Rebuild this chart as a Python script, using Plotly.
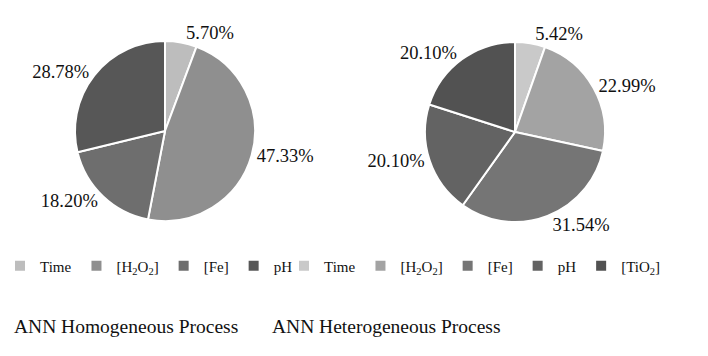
import plotly.graph_objects as go

# Data
homo_labels = ["Time", "[H<sub>2</sub>O<sub>2</sub>]", "[Fe]", "pH"]
homo_values = [5.70, 47.33, 18.20, 28.78]
homo_colors = ["#bdbdbd", "#8f8f8f", "#6e6e6e", "#575757"]

hetero_labels = ["Time", "[H<sub>2</sub>O<sub>2</sub>]", "[Fe]", "pH", "[TiO<sub>2</sub>]"]
hetero_values = [5.42, 22.99, 31.54, 20.10, 20.10]
hetero_colors = ["#c9c9c9", "#a3a3a3", "#757575", "#636363", "#525252"]

titles = ["ANN Homogeneous Process", "ANN Heterogeneous Process"]

FONT = "Liberation Serif"
W, H = 708, 356

def px_x(v):
    return v / W

def px_y(v):
    return (H - v) / H

# make right-pie legend labels distinct so each legend keeps its own entries
hetero_legend_labels = [lab + "\u200b" for lab in hetero_labels]

fig = go.Figure()

fig.add_trace(go.Pie(
    labels=homo_labels, values=homo_values, sort=False, direction="clockwise",
    rotation=0, marker=dict(colors=homo_colors, line=dict(color="white", width=2)),
    texttemplate="%{value:.2f}%", textposition="outside",
    textfont=dict(family=FONT, size=18.5, color="#111111"),
    domain=dict(x=[px_x(75), px_x(255)], y=[px_y(221), px_y(41)]),
    legend="legend", showlegend=True, hoverinfo="label+value",
))

fig.add_trace(go.Pie(
    labels=hetero_legend_labels, values=hetero_values, sort=False, direction="clockwise",
    rotation=0, marker=dict(colors=hetero_colors, line=dict(color="white", width=2)),
    texttemplate="%{value:.2f}%", textposition="outside",
    textfont=dict(family=FONT, size=18.5, color="#111111"),
    domain=dict(x=[px_x(425), px_x(605)], y=[px_y(222), px_y(42)]),
    legend="legend2", showlegend=True, hoverinfo="label+value",
))

legend_common = dict(orientation="h", font=dict(family=FONT, size=15, color="#111111"),
                     yanchor="middle", bgcolor="rgba(0,0,0,0)", itemclick=False)

fig.update_layout(
    width=W, height=H,
    margin=dict(l=0, r=0, t=0, b=0),
    paper_bgcolor="white", plot_bgcolor="white",
    legend=dict(x=0, y=px_y(266), xanchor="left", **legend_common),
    legend2=dict(x=px_x(284), y=px_y(266), xanchor="left", **legend_common),
    annotations=[
        dict(text=titles[0], x=px_x(126), y=px_y(326), xref="paper", yref="paper",
             xanchor="center", yanchor="middle", showarrow=False,
             font=dict(family=FONT, size=19.5, color="#111111")),
        dict(text=titles[1], x=px_x(386), y=px_y(326), xref="paper", yref="paper",
             xanchor="center", yanchor="middle", showarrow=False,
             font=dict(family=FONT, size=19.5, color="#111111")),
    ],
)

fig.write_html("out.html", config={"displayModeBar": False},
               post_script="document.body.style.margin='0';")
